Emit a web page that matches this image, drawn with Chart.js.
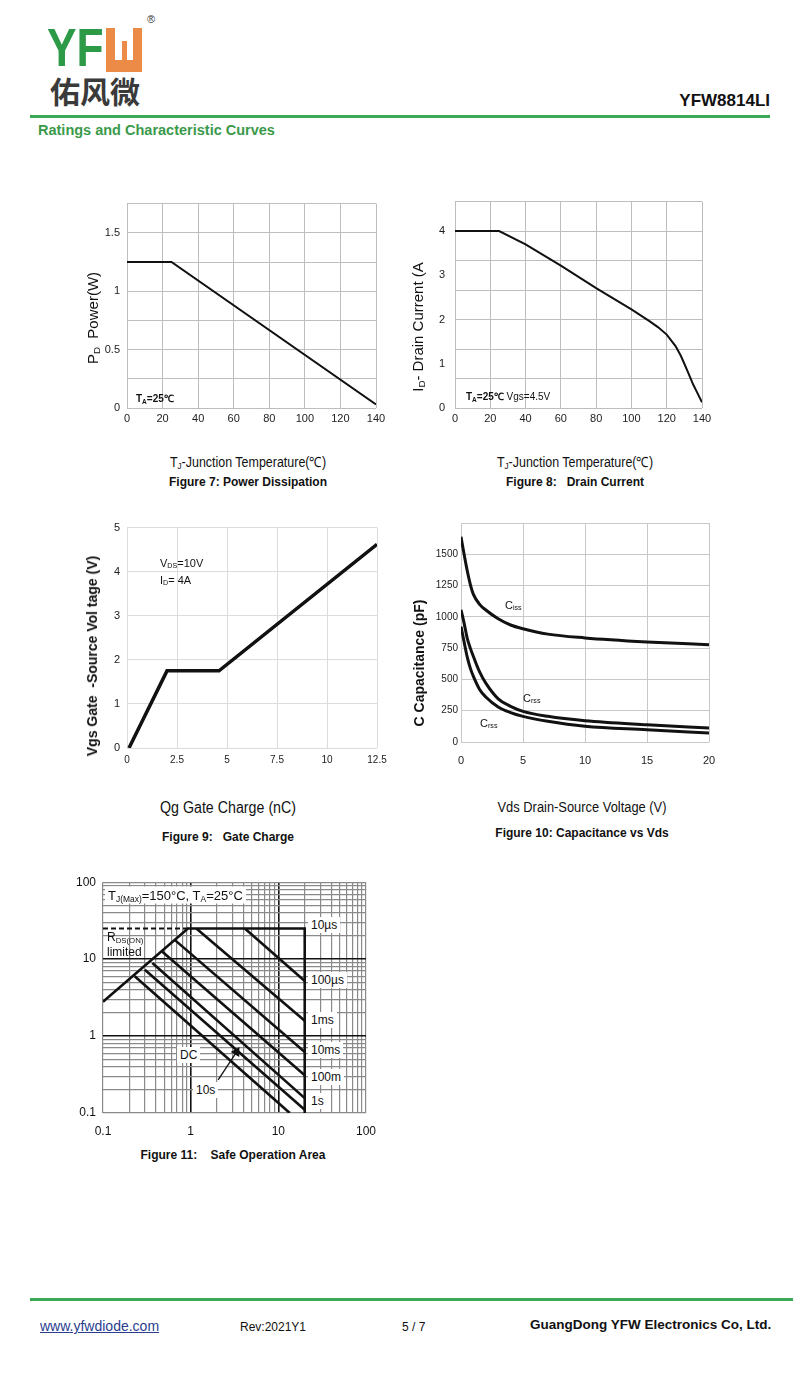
<!DOCTYPE html>
<html><head><meta charset="utf-8">
<script src="https://cdn.jsdelivr.net/npm/chart.js@4"></script>
<style>
body{margin:0;width:800px;height:1374px;position:relative;background:#fff;font-family:"Liberation Sans",Arial,sans-serif;overflow:hidden}
.t{position:absolute;white-space:nowrap;color:#111;line-height:1}
.c{transform:translate(-50%,-50%)}
.r{transform:translate(-50%,-50%) rotate(-90deg)}
.l{transform:translateY(-50%)}
canvas{position:absolute}
sub{font-size:65%;vertical-align:-0.25em;line-height:0}
.cap{font-size:14px;transform:translate(-50%,-50%) scaleX(0.89)}
.fig{font-weight:bold;font-size:12px}
.wb{background:#fff;padding:2px 3px}
</style></head><body>

<!-- header -->
<div class="t" style="left:47px;top:20px;font-size:54px;font-weight:bold;color:#2c9a47;transform:scaleX(0.82);transform-origin:0 0">YF</div>
<div style="position:absolute;left:106px;top:28px;width:36px;height:44px;background:#ec8a48">
  <div style="position:absolute;left:9px;top:0;width:18px;height:32px;background:#fff">
    <div style="position:absolute;left:6.5px;top:13px;width:5px;height:19px;background:#ec8a48"></div>
  </div>
</div>
<div class="t" style="left:147px;top:14px;font-size:11px;color:#333">®</div>
<div class="t" style="left:50px;top:75px;font-size:30px;font-weight:bold;color:#3a3a3a;font-family:'Noto Sans CJK SC',sans-serif">佑风微</div>
<div class="t l" style="right:30px;top:100px;font-size:17px;font-weight:bold">YFW8814LI</div>
<div style="position:absolute;left:30px;top:115px;width:740px;height:3px;background:#3aaa55"></div>
<div class="t l" style="left:38px;top:130px;font-size:14.5px;font-weight:bold;color:#3a9a4a">Ratings and Characteristic Curves</div>

<canvas id="c7"></canvas><canvas id="c8"></canvas><canvas id="c9"></canvas><canvas id="c10"></canvas><canvas id="c11"></canvas>

<!-- fig 7 texts -->
<div class="t r" style="left:92px;top:318px;font-size:15px">P<sub>D</sub>&nbsp; Power(W)</div>
<div class="t l" style="left:136px;top:399px;font-size:10px;font-weight:bold">T<sub>A</sub>=25℃</div>
<div class="t cap" style="left:248px;top:462px">T<sub>J</sub>-Junction Temperature(℃)</div>
<div class="t c fig" style="left:248px;top:482px">Figure 7: Power Dissipation</div>

<!-- fig 8 texts -->
<div class="t r" style="left:417px;top:327px;font-size:15px">I<sub>D</sub>- Drain Current (A</div>
<div class="t l" style="left:466px;top:397px;font-size:10px"><b>T<sub>A</sub>=25℃</b> Vgs=4.5V</div>
<div class="t cap" style="left:575px;top:462px">T<sub>J</sub>-Junction Temperature(℃)</div>
<div class="t c fig" style="left:575px;top:482px">Figure 8:&nbsp;&nbsp; Drain Current</div>

<!-- fig 9 texts -->
<div class="t r" style="left:92px;top:656px;font-size:14px;font-weight:bold">Vgs Gate&nbsp; -Source Vol tage (V)</div>
<div class="t l" style="left:160px;top:563px;font-size:11px">V<sub>DS</sub>=10V</div>
<div class="t l" style="left:160px;top:580px;font-size:11px">I<sub>D</sub>= 4A</div>
<div class="t cap" style="left:228px;top:808px;font-size:16px">Qg Gate Charge (nC)</div>
<div class="t c fig" style="left:228px;top:837px">Figure 9:&nbsp;&nbsp; Gate Charge</div>

<!-- fig 10 texts -->
<div class="t r" style="left:419px;top:663px;font-size:14px;font-weight:bold">C Capacitance (pF)</div>
<div class="t l" style="left:505px;top:605px;font-size:11px">C<sub>iss</sub></div>
<div class="t l" style="left:523px;top:698px;font-size:11px">C<sub>rss</sub></div>
<div class="t l" style="left:480px;top:723px;font-size:11px">C<sub>rss</sub></div>
<div class="t cap" style="left:582px;top:807px;transform:translate(-50%,-50%) scaleX(0.92)">Vds Drain-Source Voltage (V)</div>
<div class="t c fig" style="left:582px;top:833px">Figure 10: Capacitance vs Vds</div>

<!-- fig 11 texts -->
<div class="t l wb" style="left:105px;top:895px;font-size:13px">T<sub>J(Max)</sub>=150°C, T<sub>A</sub>=25°C</div>
<div class="t l" style="left:107px;top:937px;font-size:12px">R<sub>DS(ON)</sub></div>
<div class="t l" style="left:107px;top:952px;font-size:12px">limited</div>
<div class="t l wb" style="left:308px;top:925px;font-size:12px">10µs</div>
<div class="t l wb" style="left:308px;top:980px;font-size:12px">100µs</div>
<div class="t l wb" style="left:308px;top:1020px;font-size:12px">1ms</div>
<div class="t l wb" style="left:308px;top:1050px;font-size:12px">10ms</div>
<div class="t l wb" style="left:308px;top:1077px;font-size:12px">100m</div>
<div class="t l wb" style="left:308px;top:1101px;font-size:12px">1s</div>
<div class="t l wb" style="left:177px;top:1055px;font-size:12px">DC</div>
<div class="t l wb" style="left:193px;top:1090px;font-size:12px">10s</div>
<div class="t c fig" style="left:233px;top:1155px">Figure 11:&nbsp;&nbsp;&nbsp; Safe Operation Area</div>

<!-- footer -->
<div style="position:absolute;left:30px;top:1298px;width:763px;height:3px;background:#3aaa55"></div>
<div class="t l" style="left:40px;top:1326px;font-size:14px;color:#2a3d8f;text-decoration:underline">www.yfwdiode.com</div>
<div class="t l" style="left:240px;top:1327px;font-size:12px">Rev:2021Y1</div>
<div class="t l" style="left:402px;top:1327px;font-size:12px">5 / 7</div>
<div class="t l" style="left:530px;top:1325px;font-size:13.5px;font-weight:bold">GuangDong YFW Electronics Co, Ltd.</div>

<script>
// ---------- data ----------
const pdTemp  = [0, 25, 140];
const pdPower = [1.25, 1.25, 0.03];

const idTemp    = [0, 25, 40, 60, 80, 100, 110, 115, 120, 125, 128, 130, 133, 135, 137, 140];
const idCurrent = [4, 4, 3.7, 3.22, 2.71, 2.23, 1.97, 1.83, 1.66, 1.40, 1.18, 1.0, 0.72, 0.53, 0.37, 0.13];
const idTickLabels = [0, 1, 2, 3, 4];

const qgCharge = [0.1, 2.0, 4.6, 12.5];
const vgsVolt  = [0, 1.75, 1.75, 4.62];

const vdsVolt = [0, 0.25, 0.5, 0.75, 1, 1.5, 2, 3, 4, 5, 7, 10, 15, 20];
const ciss = [1640, 1500, 1370, 1260, 1180, 1100, 1055, 985, 935, 905, 862, 832, 800, 777];
const coss = [1056, 950, 830, 750, 683, 560, 470, 345, 285, 245, 205, 170, 138, 112];
const crss = [923, 800, 680, 590, 524, 420, 360, 280, 235, 205, 165, 125, 98, 72];

const soaTickLabels = [0.1, 1, 10, 100];
const rdsLimitV = [0.1, 0.93];     const rdsLimitI = [25, 25];
const envelopeV = [0.1, 0.93, 20, 20]; const envelopeI = [2.8, 25, 25, 0.1];
const soa10usV  = [4.15, 20];  const soa10usI  = [25, 5.2];
const soa100usV = [1.16, 20];  const soa100usI = [25, 1.58];
const soa1msV   = [0.657, 20]; const soa1msI   = [17.8, 0.62];
const soa10msV  = [0.472, 20]; const soa10msI  = [12.6, 0.31];
const soa100msV = [0.366, 20]; const soa100msI = [8.9, 0.156];
const soa1sV    = [0.3, 20];   const soa1sI    = [7.3, 0.11];
const soaDCV    = [0.23, 13.5];const soaDCI    = [6.0, 0.1];
const arrowV = [2.06, 3.33];   const arrowI = [0.27, 0.62];

// ---------- helpers ----------
const FONT = '"Liberation Sans", Arial, sans-serif';
const PAD_T = 12, PAD_R = 22, Y_W = 48, X_H = 32;
function pts(xs, ys){ return xs.map((x,i)=>({x:x, y:ys[i]})); }
function place(id, ca){
  const cv = document.getElementById(id);
  const w = ca.r - ca.l + Y_W + PAD_R, h = ca.b - ca.t + PAD_T + X_H;
  cv.width = Math.round(w); cv.height = Math.round(h);
  cv.style.left = (ca.l - Y_W) + 'px'; cv.style.top = (ca.t - PAD_T) + 'px';
  cv.style.width = Math.round(w)+'px'; cv.style.height = Math.round(h)+'px';
  return cv;
}
function line(data, w, extra){
  return Object.assign({data:data, borderColor:'#111', borderWidth:w, pointRadius:0, showLine:true, fill:false, tension:0}, extra||{});
}
function base(datasets, scales){
  return {type:'scatter', data:{datasets:datasets},
    options:{responsive:false, animation:false, devicePixelRatio:1,
      layout:{padding:{top:PAD_T, right:PAD_R, left:0, bottom:0}},
      plugins:{legend:{display:false}, tooltip:{enabled:false}},
      scales:scales}};
}
function xAxis(o){
  return Object.assign({type:'linear', afterFit:s=>{s.height=X_H;},
    border:{display:false}}, o);
}
function yAxis(o){
  return Object.assign({type:'linear', afterFit:s=>{s.width=Y_W;},
    border:{display:false}}, o);
}

// ---------- Figure 7 ----------
new Chart(place('c7',{l:126.7,r:376,t:201.7,b:408}), base(
  [line(pts(pdTemp,pdPower),2)],
  {x:xAxis({min:0,max:140,ticks:{stepSize:20,padding:4,color:'#222',font:{family:FONT,size:11}},
      grid:{color:'#bdbdbd',lineWidth:1,drawTicks:false}}),
   y:yAxis({min:0,max:1.75,ticks:{stepSize:0.25,padding:7,color:'#222',font:{family:FONT,size:11},
      callback:v=> (Math.abs(v*2-Math.round(v*2))<1e-6 && v<1.7) ? String(v) : ''},
      grid:{color:'#bdbdbd',lineWidth:1,drawTicks:false}})}
));

// ---------- Figure 8 ----------
new Chart(place('c8',{l:455,r:701.7,t:196.7,b:407.3}), base(
  [line(pts(idTemp,idCurrent),2)],
  {x:xAxis({min:0,max:140,ticks:{stepSize:20,padding:4,color:'#222',font:{family:FONT,size:11}},
      grid:{color:'#bdbdbd',lineWidth:1,drawTicks:false}}),
   y:yAxis({min:0,max:14/3,
      afterBuildTicks:s=>{
        const vals=[]; for(let k=0;k<=7;k++) vals.push(k*2/3);
        idTickLabels.forEach(v=>{ if(!vals.some(u=>Math.abs(u-v)<1e-6)) vals.push(v); });
        vals.sort((a,b)=>a-b); s.ticks = vals.map(v=>({value:v}));
      },
      ticks:{padding:10,color:'#222',font:{family:FONT,size:11},
        callback:v=> idTickLabels.some(u=>Math.abs(u-v)<1e-6) ? String(Math.round(v)) : ''},
      grid:{drawTicks:false,lineWidth:1,
        color:c=>{ const v=c.tick.value; const onGrid=Math.abs(v*1.5-Math.round(v*1.5))<1e-6; return onGrid?'#bdbdbd':'rgba(0,0,0,0)'; }}})}
));

// ---------- Figure 9 ----------
new Chart(place('c9',{l:126.7,r:376.7,t:526,b:747.7}), base(
  [line(pts(qgCharge,vgsVolt),3.5)],
  {x:xAxis({min:0,max:12.5,ticks:{stepSize:2.5,padding:6,color:'#222',font:{family:FONT,size:10}},
      grid:{color:'#dcdcdc',lineWidth:1,drawTicks:false}}),
   y:yAxis({min:0,max:5,ticks:{stepSize:1,padding:7,color:'#222',font:{family:FONT,size:11}},
      grid:{color:'#dcdcdc',lineWidth:1,drawTicks:false}})}
));

// ---------- Figure 10 ----------
new Chart(place('c10',{l:461,r:709,t:523.3,b:742.3}), base(
  [line(pts(vdsVolt,ciss),3,{cubicInterpolationMode:'monotone'}),
   line(pts(vdsVolt,coss),3,{cubicInterpolationMode:'monotone'}),
   line(pts(vdsVolt,crss),3,{cubicInterpolationMode:'monotone'})],
  {x:xAxis({min:0,max:20,ticks:{stepSize:5,padding:12,color:'#222',font:{family:FONT,size:11}},
      grid:{color:'#c8c8c8',lineWidth:1,drawTicks:false}}),
   y:yAxis({min:0,max:1750,ticks:{stepSize:250,padding:3,color:'#222',font:{family:FONT,size:10},
      callback:v=> v<1700 ? String(v) : ''},
      grid:{color:'#c8c8c8',lineWidth:1,drawTicks:false}})}
));

// ---------- Figure 11 ----------
function logTicks(s){
  const vals=[];
  for(let e=-1;e<=1;e++) for(let k=1;k<=9;k++) vals.push(+(k*Math.pow(10,e)).toPrecision(3));
  vals.push(100);
  s.ticks = vals.map(v=>({value:v}));
}
function isMajor(v){ return soaTickLabels.some(u=>Math.abs(u-v)/u<1e-6); }
function soaGridColor(c){
  const v=c.tick.value;
  if(Math.abs(v-1)<1e-6 || Math.abs(v-10)<1e-6) return '#111';
  return '#8a8a8a';
}
function soaGridWidth(c){
  const v=c.tick.value;
  if(Math.abs(v-1)<1e-6 || Math.abs(v-10)<1e-6) return 1.6;
  return 1.2;
}
const soaSets = [
  line(pts(rdsLimitV,rdsLimitI),2,{borderDash:[5,3]}),
  line(pts(envelopeV,envelopeI),2.6),
  line(pts(soa10usV,soa10usI),2.6),
  line(pts(soa100usV,soa100usI),2.6),
  line(pts(soa1msV,soa1msI),2.6),
  line(pts(soa10msV,soa10msI),2.6),
  line(pts(soa100msV,soa100msI),2.6),
  line(pts(soa1sV,soa1sI),2.6),
  line(pts(soaDCV,soaDCI),2.6),
  line(pts(arrowV,arrowI),1.3,{pointRadius:[0,4.5],pointStyle:'triangle',rotation:31,
     pointBackgroundColor:'#111',pointBorderColor:'#111'})
];
new Chart(place('c11',{l:103.3,r:366,t:880,b:1113.3}), base(soaSets,
  {x:xAxis({type:'logarithmic',min:0.1,max:100,afterBuildTicks:logTicks,
      ticks:{padding:11,color:'#111',font:{family:FONT,size:12},autoSkip:false,maxRotation:0,
        callback:v=> isMajor(v) ? String(v) : ''},
      grid:{drawTicks:false,color:soaGridColor,lineWidth:soaGridWidth}}),
   y:yAxis({type:'logarithmic',min:0.1,max:100,afterBuildTicks:logTicks,
      ticks:{padding:7,color:'#111',font:{family:FONT,size:12},autoSkip:false,
        callback:v=> isMajor(v) ? String(v) : ''},
      grid:{drawTicks:false,color:soaGridColor,lineWidth:soaGridWidth}})}
));
</script>
</body></html>
